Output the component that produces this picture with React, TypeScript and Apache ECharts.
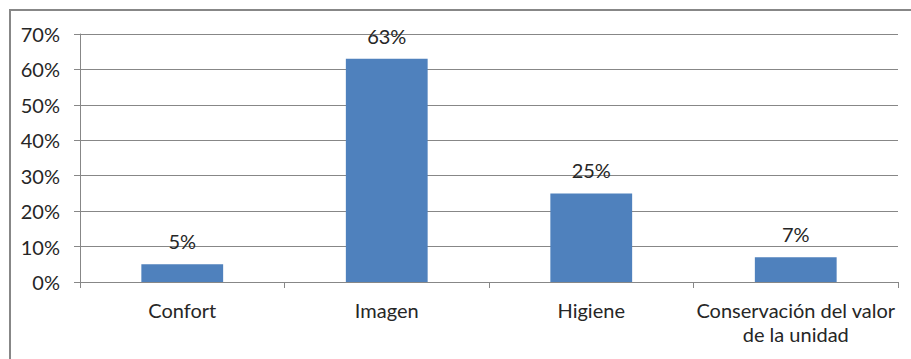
import React, { useEffect, useRef } from "react";
import * as echarts from "echarts";

const categories = ["Confort", "Imagen", "Higiene", "Conservación del valor\nde la unidad"];
const percentages = [5, 63, 25, 7];
const yMin = 0;
const yMax = 70;
const yStep = 10;

const FONT = "Lato, 'Open Sans', sans-serif";
const TEXT = "#262626";
const LINE = "#878787";

export default function App() {
  const ref = useRef<HTMLDivElement>(null);

  useEffect(() => {
    if (!ref.current) return;
    const chart = echarts.init(ref.current, null, { renderer: "svg" });
    chart.setOption({
      animation: false,
      backgroundColor: "#ffffff",
      graphic: [
        {
          type: "rect",
          shape: { x: 10, y: 10, width: 960, height: 420 },
          style: { fill: "none", stroke: LINE, lineWidth: 2 },
          silent: true,
        },
      ],
      grid: { left: 80, right: 13, top: 34, bottom: 77 },
      xAxis: {
        type: "category",
        data: categories,
        axisLine: { show: true, lineStyle: { color: LINE, width: 1 } },
        axisTick: { show: true, length: 6, lineStyle: { color: LINE } },
        axisLabel: {
          color: TEXT,
          fontFamily: FONT,
          fontSize: 20,
          lineHeight: 24,
          margin: 16,
          interval: 0,
        },
      },
      yAxis: {
        type: "value",
        min: yMin,
        max: yMax,
        interval: yStep,
        axisLine: { show: true, lineStyle: { color: LINE, width: 1 } },
        axisTick: { show: true, length: 6, lineStyle: { color: LINE } },
        axisLabel: {
          color: TEXT,
          fontFamily: FONT,
          fontSize: 20,
          margin: 20,
          formatter: "{value}%",
        },
        splitLine: { show: true, lineStyle: { color: LINE, width: 1 } },
      },
      series: [
        {
          type: "bar",
          data: percentages,
          barWidth: "40%",
          itemStyle: { color: "#4F81BD" },
          label: {
            show: true,
            position: "top",
            distance: 13,
            color: TEXT,
            fontFamily: FONT,
            fontSize: 20,
            formatter: "{c}%",
          },
        },
      ],
    });
    return () => chart.dispose();
  }, []);

  return (
    <div
      ref={ref}
      style={{ position: "absolute", left: 0, top: 0, width: 911, height: 359 }}
    />
  );
}
